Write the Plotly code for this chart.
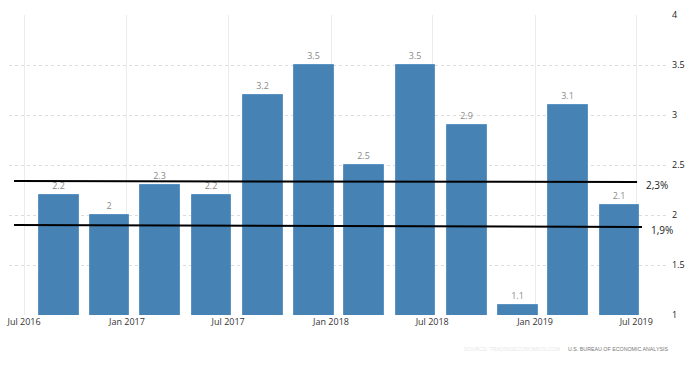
import plotly.graph_objects as go

# Data
quarters = ["2016-09-01", "2016-12-01", "2017-03-01", "2017-06-01", "2017-09-01", "2017-12-01",
            "2018-03-01", "2018-06-01", "2018-09-01", "2018-12-01", "2019-03-01", "2019-06-01"]
growth = [2.2, 2.0, 2.3, 2.2, 3.2, 3.5, 2.5, 3.5, 2.9, 1.1, 3.1, 2.1]
growth_labels = ["2.2", "2", "2.3", "2.2", "3.2", "3.5", "2.5", "3.5", "2.9", "1.1", "3.1", "2.1"]
ref_levels_start = [2.34, 1.90]
ref_levels_end = [2.33, 1.88]
ref_labels = ["2,3%", "1,9%"]
x_ticks = ["2016-07-01", "2017-01-01", "2017-07-01", "2018-01-01", "2018-07-01", "2019-01-01", "2019-07-01"]
x_tick_labels = ["Jul 2016", "Jan 2017", "Jul 2017", "Jan 2018", "Jul 2018", "Jan 2019", "Jul 2019"]
y_ticks = [1, 1.5, 2, 2.5, 3, 3.5, 4]
y_tick_labels = ["1", "1.5", "2", "2.5", "3", "3.5", "4"]
source_text = "U.S. BUREAU OF ECONOMIC ANALYSIS"
watermark_text = "SOURCE: TRADINGECONOMICS.COM"

DAY_MS = 86400000

fig = go.Figure()
fig.add_trace(go.Bar(
    x=quarters, y=growth, text=growth_labels, textposition="outside",
    textfont=dict(family="Open Sans", size=9, color="#8a8a8a"),
    marker=dict(color="#4682b4", line=dict(color="#5b93c2", width=1)),
    width=71 * DAY_MS, cliponaxis=False, hoverinfo="skip",
))

# reference lines (hand-drawn annotations)
line_x = [(0.0076, 0.9545), (0.0076, 0.962)]
for (x0, x1), y0, y1, lab in zip(line_x, ref_levels_start, ref_levels_end, ref_labels):
    fig.add_shape(type="line", xref="paper", yref="y", x0=x0, x1=x1, y0=y0, y1=y1,
                  line=dict(color="black", width=2))
    fig.add_annotation(xref="paper", yref="y", x=x1 + 0.01, y=y1 - 0.03, text=lab,
                       showarrow=False, xanchor="left", yanchor="middle",
                       font=dict(family="Open Sans", size=10, color="#222"))

fig.add_annotation(xref="paper", yref="paper", x=1.0045, y=-0.113, text=source_text,
                   showarrow=False, xanchor="right", yanchor="middle",
                   font=dict(family="Liberation Sans", size=5.3, color="#777"))
fig.add_annotation(xref="paper", yref="paper", x=0.84, y=-0.113, text=watermark_text,
                   showarrow=False, xanchor="right", yanchor="middle",
                   font=dict(family="Liberation Sans", size=5.3, color="#e8e8e8"))

fig.update_layout(
    width=698, height=371,
    margin=dict(l=7, r=31, t=15, b=56),
    paper_bgcolor="white", plot_bgcolor="white",
    showlegend=False, bargap=0,
    xaxis=dict(type="date", range=["2016-06-04", "2019-08-25"],
               tickvals=x_ticks, ticktext=x_tick_labels,
               showgrid=True, gridcolor="#ececec", gridwidth=1,
               tickfont=dict(family="Open Sans", size=9, color="#333"),
               ticks="", zeroline=False, showline=False),
    yaxis=dict(side="right", range=[1, 4], tickvals=y_ticks, ticktext=y_tick_labels,
               showgrid=True, gridcolor="#dcdcdc", griddash="dot", gridwidth=1,
               tickfont=dict(family="Open Sans", size=9, color="#222"),
               ticks="", zeroline=False, showline=False, ticklabelstandoff=4),
)

fig.write_html("out.html", config={"displayModeBar": False},
               post_script="document.body.style.margin='0';")
